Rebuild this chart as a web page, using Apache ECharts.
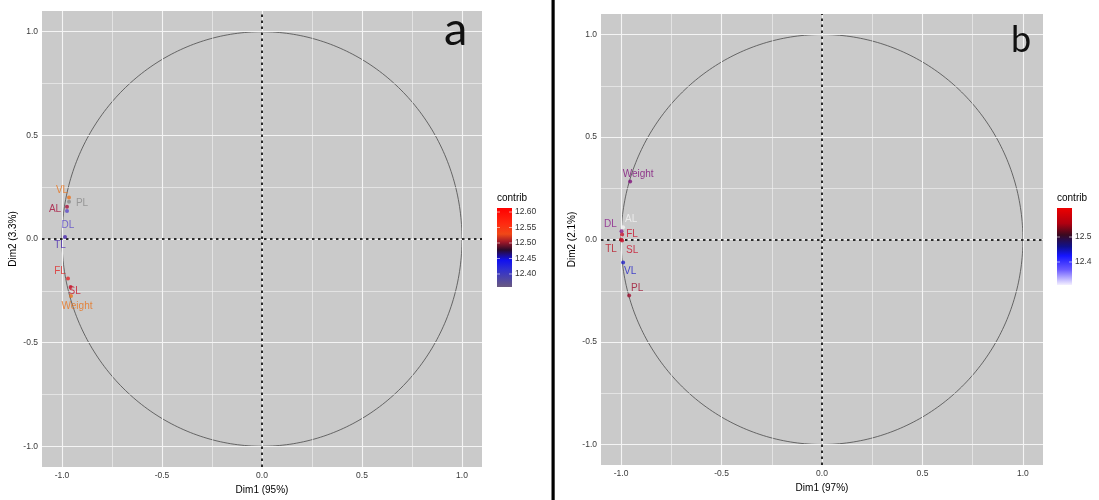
<!DOCTYPE html>
<html><head><meta charset="utf-8">
<script src="https://cdn.jsdelivr.net/npm/echarts@6/dist/echarts.min.js"></script>
<style>html,body{margin:0;padding:0;background:#fff}#c{width:1099px;height:500px}</style>
</head><body><div id="c"></div>
<script>
// ---- data: panel a ----
const varsA = ['VL', 'PL', 'AL', 'DL', 'TL', 'FL', 'SL', 'Weight'];
const dim1A = [-0.965, -0.965, -0.975, -0.975, -0.985, -0.97, -0.957, -0.955];
const dim2A = [0.200, 0.180, 0.155, 0.135, 0.010, -0.190, -0.232, -0.275];
const colorA = ['#e8731c', '#8a8a8a', '#a8123c', '#5a48c8', '#4a28b0', '#e02828', '#c8142a', '#e8731c'];
// ---- data: panel b ----
const varsB = ['Weight', 'AL', 'DL', 'FL', 'TL', 'SL', 'VL', 'PL'];
const dim1B = [-0.955, -0.99, -0.998, -0.995, -1.0, -0.995, -0.99, -0.96];
const dim2B = [0.283, 0.060, 0.040, 0.025, 0.000, -0.005, -0.112, -0.273];
const colorB = ['#80107a', '#f2f2f2', '#8a1a8a', '#c8102a', '#b81020', '#c8102a', '#2020c8', '#a01030'];
// ---- axis ticks ----
const majorTicks = [-1, -0.5, 0, 0.5, 1];
const minorTicks = [-0.75, -0.25, 0.25, 0.75];
const legendTicksA = [12.40, 12.45, 12.50, 12.55, 12.60];
const legendTicksB = [12.4, 12.5];
const axisTitles = { ax: 'Dim1 (95%)', ay: 'Dim2 (3.3%)', bx: 'Dim1 (97%)', by: 'Dim2 (2.1%)' };

// label offsets (px) relative to the point, mimicking repelled labels
const offA = [[-7, -7], [13, 2], [-12, 2], [1, 14], [-5, 8], [-8, -7], [4, 4], [6, 10]];
const offB = [[8, -7], [8, -8], [-11, -7], [10, 0], [-10, 10], [10, 10], [7, 9], [8, -7]];

const FONT = '"Liberation Sans", Arial, sans-serif';
const circle = [];
for (let i = 0; i <= 360; i++) { const t = i * Math.PI / 180; circle.push([Math.cos(t), Math.sin(t)]); }

function axisPair(idx, title, isX) {
  return {
    type: 'value', gridIndex: idx, min: -1.1, max: 1.1,
    name: title, nameLocation: 'middle', nameGap: isX ? 18 : 24,
    nameTextStyle: { fontFamily: FONT, fontSize: 10, color: '#000' },
    axisLine: { show: false },
    splitLine: { show: false },
    axisTick: { show: true, customValues: majorTicks, length: 3, lineStyle: { color: '#333', width: 1 } },
    axisLabel: { customValues: majorTicks, formatter: v => v.toFixed(1), fontFamily: FONT, fontSize: 8.5, color: '#3a3a3a', margin: 4 }
  };
}

function panelSeries(idx, names, xs, ys, cols, offs) {
  const grid = [];
  majorTicks.forEach(v => { grid.push({ xAxis: v, lineStyle: { width: 1.1 } }); grid.push({ yAxis: v, lineStyle: { width: 1.1 } }); });
  minorTicks.forEach(v => { grid.push({ xAxis: v, lineStyle: { width: 0.6 } }); grid.push({ yAxis: v, lineStyle: { width: 0.6 } }); });
  return [
    { type: 'line', xAxisIndex: idx, yAxisIndex: idx, data: [], silent: true, z: 1,
      markLine: { silent: true, symbol: 'none', label: { show: false }, animation: false,
        lineStyle: { color: '#f4f4f4', type: 'solid' }, data: grid } },
    { type: 'line', xAxisIndex: idx, yAxisIndex: idx, data: circle, showSymbol: false, silent: true, z: 2,
      lineStyle: { color: '#4a4a4a', width: 0.8 }, animation: false },
    { type: 'line', xAxisIndex: idx, yAxisIndex: idx, data: [], silent: true, z: 3,
      markLine: { silent: true, symbol: 'none', label: { show: false }, animation: false,
        lineStyle: { color: '#2a2a2a', type: [2.5, 3.5], width: 2 },
        data: [{ xAxis: 0 }, { yAxis: 0 }] } },
    { type: 'scatter', xAxisIndex: idx, yAxisIndex: idx, symbolSize: 4, z: 5, animation: false,
      data: names.map((n, i) => ({
        name: n, value: [xs[i], ys[i]], itemStyle: { color: cols[i] },
        label: { show: true, formatter: '{b}', position: 'inside', offset: offs[i], color: cols[i], fontFamily: FONT, fontSize: 10 }
      })) }
  ];
}

function legend(x, yTop, h, vmin, vmax, ticks, decimals, stops) {
  const els = [];
  const w = 15;
  els.push({ type: 'text', left: x, top: yTop - 15, style: { text: 'contrib', font: '10px ' + FONT, fill: '#000' } });
  els.push({ type: 'rect', shape: { x: x, y: yTop, width: w, height: h },
    style: { fill: new echarts.graphic.LinearGradient(0, 0, 0, 1, stops) } });
  ticks.forEach(v => {
    const y = yTop + (vmax - v) / (vmax - vmin) * h;
    els.push({ type: 'line', shape: { x1: x, y1: y, x2: x + 3, y2: y }, style: { stroke: 'rgba(255,255,255,0.7)', lineWidth: 0.8 } });
    els.push({ type: 'line', shape: { x1: x + w - 3, y1: y, x2: x + w, y2: y }, style: { stroke: 'rgba(255,255,255,0.7)', lineWidth: 0.8 } });
    els.push({ type: 'text', x: x + w + 3, y: y, style: { text: v.toFixed(decimals), font: '8.5px ' + FONT, fill: '#333', verticalAlign: 'middle' } });
  });
  return els;
}

const chart = echarts.init(document.getElementById('c'), null, { renderer: 'canvas' });
chart.setOption({
  animation: false,
  backgroundColor: '#fff',
  grid: [
    { left: 42, top: 11, width: 440, height: 457, show: true, backgroundColor: '#cacaca', borderWidth: 0 },
    { left: 601, top: 14, width: 442, height: 451, show: true, backgroundColor: '#cacaca', borderWidth: 0 }
  ],
  xAxis: [axisPair(0, axisTitles.ax, true), axisPair(1, axisTitles.bx, true)],
  yAxis: [axisPair(0, axisTitles.ay, false), axisPair(1, axisTitles.by, false)],
  series: [
    ...panelSeries(0, varsA, dim1A, dim2A, colorA, offA),
    ...panelSeries(1, varsB, dim1B, dim2B, colorB, offB)
  ],
  graphic: [
    { type: 'rect', shape: { x: 551.5, y: 0, width: 3.2, height: 500 }, style: { fill: '#000' } },
    { type: 'text', x: 444, y: 6, z: 10, style: { text: 'a', font: '47px Lato, "Open Sans", sans-serif', fill: '#111', verticalAlign: 'top' } },
    { type: 'text', x: 1011, y: 22, z: 10, style: { text: 'b', font: '36px Lato, "Open Sans", sans-serif', fill: '#111', verticalAlign: 'top' } },
    ...legend(497, 208, 79, 12.358, 12.613, legendTicksA, 2, [
      { offset: 0, color: '#ff0000' }, { offset: 0.2, color: '#ff2a10' }, { offset: 0.33, color: '#f04818' },
      { offset: 0.43, color: '#a01828' }, { offset: 0.53, color: '#2a0a2a' }, { offset: 0.66, color: '#1010f0' },
      { offset: 0.78, color: '#3030d0' }, { offset: 1, color: '#6a5a80' }
    ]),
    ...legend(1057, 208, 77, 12.308, 12.616, legendTicksB, 1, [
      { offset: 0, color: '#ee0000' }, { offset: 0.2, color: '#b00010' }, { offset: 0.35, color: '#3a0a20' },
      { offset: 0.5, color: '#10108a' }, { offset: 0.62, color: '#1515ff' }, { offset: 0.8, color: '#6a5aff' },
      { offset: 1, color: '#f4f0ff' }
    ])
  ]
});
</script></body></html>
